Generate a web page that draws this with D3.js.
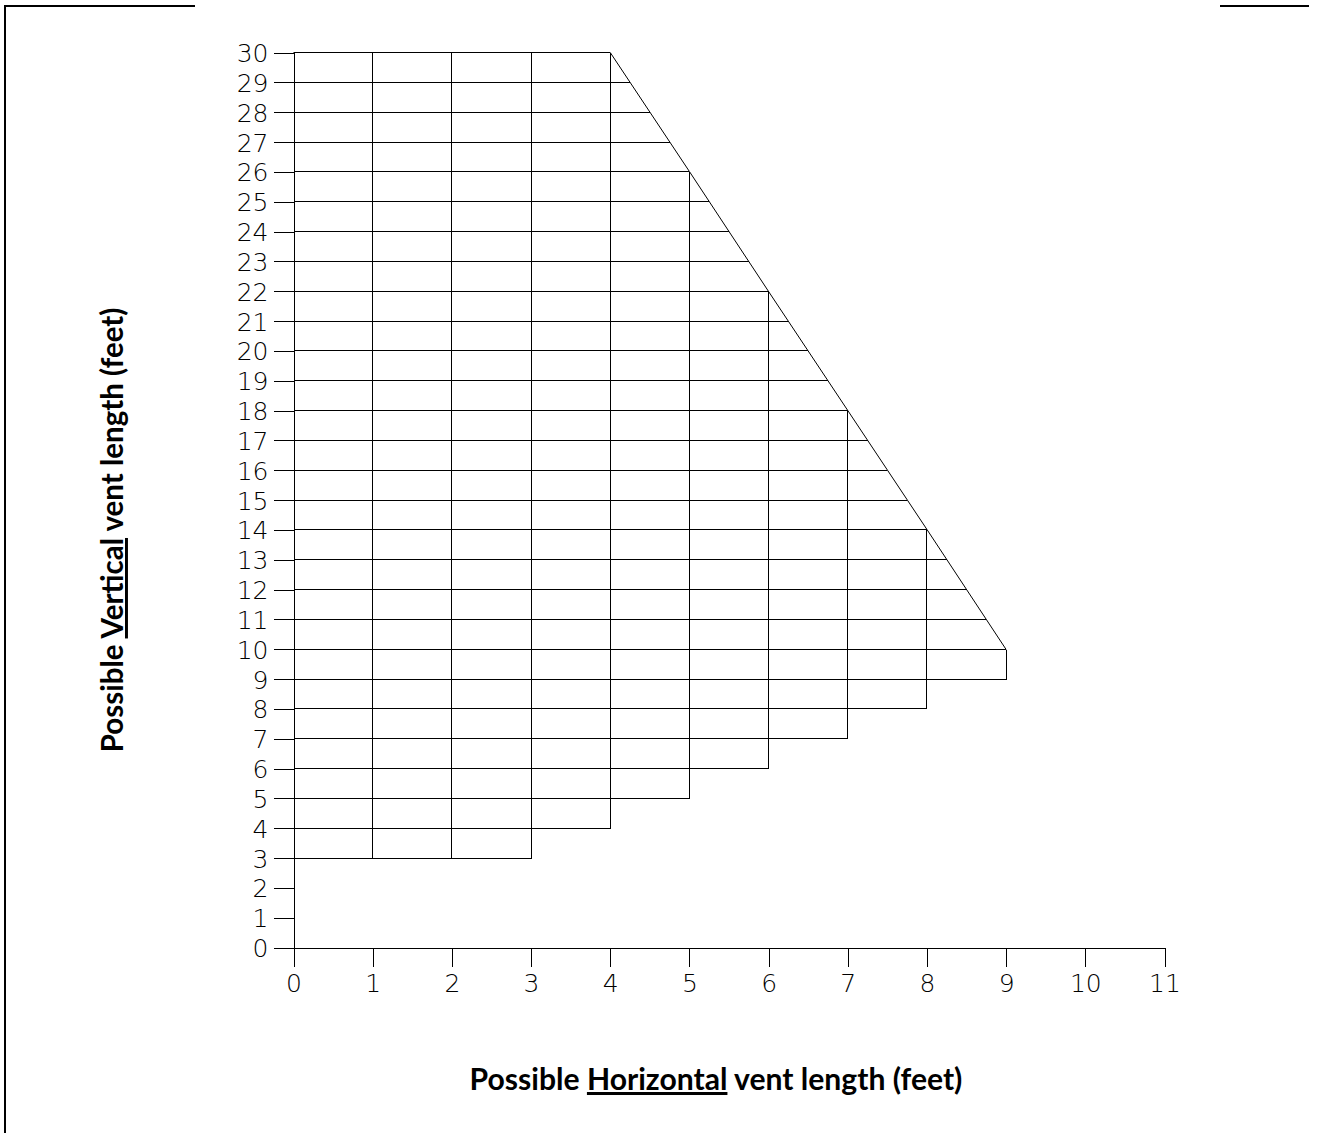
<!DOCTYPE html>
<html>
<head>
<meta charset="utf-8">
<script src="https://cdn.jsdelivr.net/npm/d3@7"></script>
<style>
  body { margin: 0; background: #fff; }
  svg { display: block; }
  .tick-label { font-family: "DejaVu Sans", sans-serif; font-weight: 200; font-size: 25px; fill: #000; }
  .title { font-family: Lato, "Open Sans", sans-serif; font-weight: 700; fill: #000; }
</style>
</head>
<body>
<div class="chart"></div>
<script>
// allowed vertical length range for each horizontal length (feet)
var horizontalFt = [0, 1, 2, 3, 4, 5, 6, 7, 8, 9];
var minVerticalFt = [3, 3, 3, 3, 4, 5, 6, 7, 8, 9];
var maxVerticalFt = [30, 30, 30, 30, 30, 26, 22, 18, 14, 10];

var xTicks = d3.range(0, 12);   // 0..11
var yTicks = d3.range(0, 31);   // 0..30
var gridRows = d3.range(3, 31); // horizontal grid lines

var xTitle = ["Possible ", "Horizontal", " vent length (feet)"];
var yTitle = ["Possible ", "Vertical", " vent length (feet)"];

var width = 1318,
    height = 1133;

var x = d3.scaleLinear().domain([0, 11]).range([293.5, 1164.5]);
var y = d3.scaleLinear().domain([0, 30]).range([947.5, 52.5]);

function px(v) { return Math.round(v - 0.5) + 0.5; }

var svg = d3.select(".chart").append("svg")
    .attr("width", width)
    .attr("height", height);

// page frame
svg.append("path")
    .attr("d", "M5,1133V6H195M1220,6H1309")
    .attr("fill", "none")
    .attr("stroke", "#000")
    .attr("stroke-width", 2);

// right end of a horizontal grid line at vertical length v
function rightEnd(v) {
  var i = -1;
  horizontalFt.forEach(function(h, k) {
    if (minVerticalFt[k] <= v && maxVerticalFt[k] >= v) i = k;
  });
  if (i < horizontalFt.length - 1 && maxVerticalFt[i + 1] < v) {
    return horizontalFt[i] + (maxVerticalFt[i] - v) / (maxVerticalFt[i] - maxVerticalFt[i + 1]);
  }
  return horizontalFt[i];
}

var grid = svg.append("g")
    .attr("stroke", "#000")
    .attr("stroke-width", 1)
    .attr("fill", "none");

grid.selectAll(".row")
    .data(gridRows)
    .enter()
    .append("line")
    .attr("class", "row")
    .attr("shape-rendering", "crispEdges")
    .attr("x1", x(0))
    .attr("x2", function(d) { return x(rightEnd(d)); })
    .attr("y1", function(d) { return px(y(d)); })
    .attr("y2", function(d) { return px(y(d)); });

grid.selectAll(".col")
    .data(horizontalFt.slice(1))
    .enter()
    .append("line")
    .attr("class", "col")
    .attr("shape-rendering", "crispEdges")
    .attr("x1", function(d) { return px(x(d)); })
    .attr("x2", function(d) { return px(x(d)); })
    .attr("y1", function(d, i) { return px(y(minVerticalFt[i + 1])); })
    .attr("y2", function(d, i) { return px(y(maxVerticalFt[i + 1])); });

// upper limit (top row + slanted edge)
grid.append("path")
    .datum(horizontalFt)
    .attr("d", d3.line()
      .x(function(d) { return x(d); })
      .y(function(d, i) { return px(y(maxVerticalFt[i])); }));

// axes
var xAxis = svg.append("g")
    .attr("transform", "translate(0," + px(y(0)) + ")")
    .call(d3.axisBottom(x).tickValues(xTicks).tickSize(19).tickSizeOuter(0).tickPadding(7));

var yAxis = svg.append("g")
    .attr("transform", "translate(" + px(x(0)) + ",0)")
    .call(d3.axisLeft(y).tickValues(yTicks).tickSize(20).tickSizeOuter(0).tickPadding(5));

[xAxis, yAxis].forEach(function(a) {
  a.attr("font-family", null).attr("font-size", null);
  a.selectAll("path, line").attr("stroke", "#000").attr("shape-rendering", "crispEdges");
  a.selectAll("text").attr("class", "tick-label").attr("fill", null);
});
xAxis.select(".domain").attr("d", "M" + (x(0) - 20) + ",0.5H" + x(11));
yAxis.selectAll("text").attr("dy", "0.36em");
xAxis.selectAll("text").attr("dy", "0.74em");

// axis titles
function addTitle(parts, cx, cy, rotate, targetLen) {
  var t = svg.append("text")
      .attr("class", "title")
      .attr("font-size", 26)
      .attr("text-anchor", "middle")
      .attr("transform", "translate(" + cx + "," + cy + ")" + (rotate ? " rotate(-90)" : ""));
  t.selectAll("tspan")
      .data(parts)
      .enter()
      .append("tspan")
      .style("text-decoration", function(d, i) { return i === 1 ? "underline" : null; })
      .attr("xml:space", "preserve")
      .text(function(d) { return d; });
  t.style("white-space", "pre");
  var len = t.node().getComputedTextLength();
  t.attr("font-size", 26 * targetLen / len);
}

addTitle(xTitle, 716, 1090, false, 493);
addTitle(yTitle, 123, 530, true, 445);
</script>
</body>
</html>
